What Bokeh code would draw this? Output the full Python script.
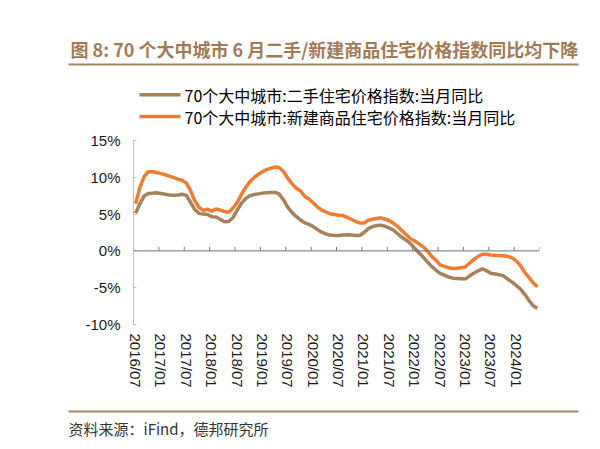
from bokeh.plotting import figure
from bokeh.models import Range1d, FixedTicker, Span
from bokeh.core.properties import value
from bokeh.embed import file_html
from bokeh.resources import INLINE

# ---------------- data ----------------
months = [f"{y}/{m:02d}" for y in range(2016, 2025) for m in range(1, 13)][6:6 + 96]

# 70个大中城市:二手住宅价格指数:当月同比 (%)
second_hand = [5.1, 6.4, 7.45, 7.8, 7.85, 7.9, 7.8, 7.7, 7.6, 7.55, 7.6, 7.7,
               7.55, 6.6, 5.6, 5.1, 5.0, 4.95, 4.65, 4.6, 4.3, 3.95, 4.0, 4.5,
               5.5, 6.45, 7.1, 7.5, 7.65, 7.75, 7.85, 7.9, 7.95, 7.95, 7.7, 6.9,
               5.9, 5.2, 4.65, 4.2, 3.8, 3.6, 3.3, 2.9, 2.55, 2.3, 2.15, 2.1,
               2.1, 2.15, 2.2, 2.15, 2.1, 2.1, 2.5, 3.0, 3.3, 3.45, 3.5, 3.35,
               3.1, 2.8, 2.3, 1.85, 1.45, 1.0, 0.35, -0.25, -0.85, -1.5, -2.1, -2.6,
               -3.05, -3.3, -3.55, -3.7, -3.75, -3.8, -3.8, -3.4, -3.0, -2.7, -2.45, -2.7,
               -3.05, -3.15, -3.25, -3.4, -3.85, -4.25, -4.7, -5.2, -5.9, -6.7, -7.45, -7.8]

# 70个大中城市:新建商品住宅价格指数:当月同比 (%)
new_home = [6.4, 8.6, 10.1, 10.75, 10.75, 10.65, 10.5, 10.35, 10.15, 9.95, 9.75, 9.6,
            9.2, 8.2, 6.8, 5.9, 5.5, 5.65, 5.4, 5.7, 5.55, 5.35, 5.25, 5.8,
            6.55, 7.65, 8.6, 9.4, 9.95, 10.4, 10.75, 11.05, 11.25, 11.4, 11.3, 10.75,
            9.85, 9.1, 8.5, 8.15, 7.4, 7.05, 6.5, 5.95, 5.55, 5.3, 5.05, 4.95,
            4.85, 4.8, 4.55, 4.3, 4.0, 3.8, 3.8, 4.15, 4.3, 4.4, 4.5, 4.3,
            4.1, 3.75, 3.3, 2.75, 2.2, 1.65, 1.35, 0.95, 0.55, 0.0, -0.75, -1.25,
            -1.9, -2.1, -2.3, -2.4, -2.35, -2.3, -2.15, -1.65, -1.15, -0.75, -0.45, -0.45,
            -0.55, -0.6, -0.62, -0.65, -0.75, -0.95, -1.35, -2.0, -2.9, -3.6, -4.35, -4.85]

tick_labels = ["2016/07", "2017/01", "2017/07", "2018/01", "2018/07", "2019/01",
               "2019/07", "2020/01", "2020/07", "2021/01", "2021/07", "2022/01",
               "2022/07", "2023/01", "2023/07", "2024/01"]
y_ticks = [-10, -5, 0, 5, 10, 15]
y_tick_labels = ["-10%", "-5%", "0%", "5%", "10%", "15%"]

series_names = ["70个大中城市:二手住宅价格指数:当月同比",
                "70个大中城市:新建商品住宅价格指数:当月同比"]
title_text = "图 8: 70 个大中城市 6 月二手/新建商品住宅价格指数同比均下降"
source_text = "资料来源：iFind，德邦研究所"

# ---------------- styling ----------------
BROWN = "#A5825C"
ORANGE = "#EE7D31"
TITLE_C = "#A27B55"
RULE_C = "#A98462"
CJK = "Noto Sans CJK SC"
W = 584
H_HEAD, H_MAIN, H_FOOT = 130, 270, 41


def blank(height, y_top):
    f = figure(width=W, height=height, x_range=Range1d(0, W),
               y_range=Range1d(y_top + height, y_top),
               x_axis_type=None, y_axis_type=None,
               output_backend="svg", toolbar_location=None,
               min_border=0, min_border_left=0, min_border_right=0,
               min_border_top=0, min_border_bottom=0)
    f.outline_line_color = None
    f.background_fill_color = "white"
    f.border_fill_color = "white"
    return f


# ---------------- header: title, rule, legend ----------------
head = blank(H_HEAD, 0)
head.text(x=[70], y=[48.5], text=[title_text], text_font=value(CJK),
          text_font_size=value("18px"), text_font_style=value("bold"),
          text_color=value(TITLE_C), text_baseline=value("middle"),
          text_align=value("left"))
head.segment(x0=[68], y0=[64], x1=[578], y1=[64], line_color=RULE_C, line_width=2)
legend_y = [94.3, 116]
for name, col, ly in zip(series_names, [BROWN, ORANGE], legend_y):
    head.segment(x0=[139], y0=[ly], x1=[180], y1=[ly], line_color=col, line_width=3.5)
    head.text(x=[184], y=[ly], text=[name], text_font=value(CJK),
              text_font_size=value("16px"), text_color=value("#000000"),
              text_baseline=value("middle"), text_align=value("left"))

# ---------------- main chart ----------------
x = list(range(len(months)))
label_pos = [months.index(t) for t in tick_labels]
tick_marks = [i - 0.5 for i in label_pos] + [len(months) - 0.5]

p = figure(width=W, height=H_MAIN,
           x_range=Range1d(-0.5, len(months) - 0.5), y_range=Range1d(-10, 15),
           output_backend="svg", toolbar_location=None,
           min_border_left=133, min_border_right=45,
           min_border_top=10, min_border_bottom=76)
p.xgrid.visible = False
p.ygrid.visible = False
p.outline_line_color = None
p.background_fill_color = "white"
p.border_fill_color = "white"

ya = p.yaxis[0]
ya.ticker = FixedTicker(ticks=y_ticks)
ya.major_label_overrides = dict(zip(y_ticks, y_tick_labels))
ya.axis_line_color = "#bfbfbf"
ya.major_tick_line_color = "#bfbfbf"
ya.major_tick_in = 3
ya.major_tick_out = 0
ya.minor_tick_line_color = None
ya.major_label_standoff = 13
ya.major_label_text_font = "Liberation Sans"
ya.major_label_text_font_size = "15px"
ya.major_label_text_color = "#1a1a1a"

xa = p.xaxis[0]
xa.ticker = FixedTicker(ticks=label_pos)
xa.major_label_overrides = dict(zip(label_pos, tick_labels))
xa.major_label_orientation = "vertical"
xa.axis_line_color = None
xa.major_tick_line_color = None
xa.major_tick_in = 0
xa.major_tick_out = 0
xa.minor_tick_line_color = None
xa.major_label_standoff = 9
xa.major_label_text_font = "Liberation Sans"
xa.major_label_text_font_size = "15px"
xa.major_label_text_color = "#1a1a1a"

p.add_layout(Span(location=0, dimension="width", line_color="#707070", line_width=1))
p.segment(x0=tick_marks, y0=[0] * len(tick_marks), x1=tick_marks,
          y1=[0.55] * len(tick_marks), line_color="#808080", line_width=1)

p.line(x, second_hand, line_color=BROWN, line_width=3.5, line_join="round")
p.line(x, new_home, line_color=ORANGE, line_width=3.5, line_join="round")

# ---------------- footer: rule and source ----------------
foot = blank(H_FOOT, H_HEAD + H_MAIN)
foot.segment(x0=[68], y0=[411], x1=[578], y1=[411], line_color=RULE_C, line_width=2)
foot.text(x=[68], y=[428], text=[source_text], text_font=value(CJK),
          text_font_size=value("15px"), text_color=value("#333333"),
          text_baseline=value("middle"), text_align=value("left"))

open("out.html", "w").write(file_html([head, p, foot], INLINE))
